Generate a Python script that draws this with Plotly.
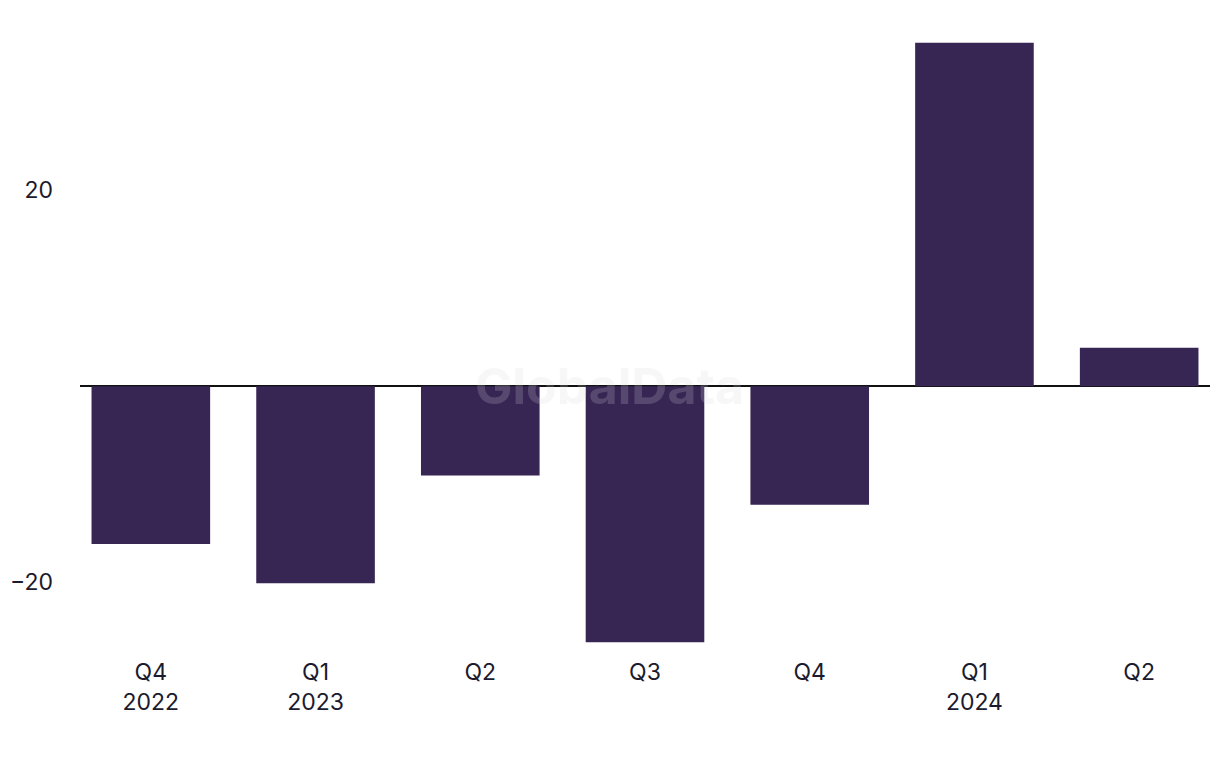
import plotly.graph_objects as go

categories = ["Q4<br>2022", "Q1<br>2023", "Q2", "Q3", "Q4", "Q1<br>2024", "Q2"]
cat_ids = ["Q4 2022", "Q1 2023", "Q2 2023", "Q3 2023", "Q4 2023", "Q1 2024", "Q2 2024"]
values = [-16.1, -20.1, -9.1, -26.1, -12.1, 35.0, 3.9]
y_ticks = [-20, 20]
y_tick_labels = ["\u221220", "20"]

BAR = "#372554"
TXT = "#1b1a2e"
FONT = "Inter, Roboto, sans-serif"

fig = go.Figure(go.Bar(x=cat_ids, y=values, marker=dict(color=BAR, line=dict(width=0)),
                       hoverinfo="skip"))

fig.update_layout(
    width=1204, height=752,
    margin=dict(l=72, r=2, t=23, b=109),
    paper_bgcolor="white", plot_bgcolor="white",
    bargap=0.28,
    showlegend=False,
    font=dict(family=FONT, size=23, color=TXT),
    xaxis=dict(
        tickmode="array", tickvals=cat_ids, ticktext=categories,
        range=[-0.43, 6.43], showgrid=False, showline=False, zeroline=False,
        ticks="", ticklabelstandoff=5,
    ),
    yaxis=dict(
        tickmode="array", tickvals=y_ticks, ticktext=y_tick_labels,
        range=[-27.0, 36.2], showgrid=False, showline=False,
        zeroline=True, zerolinecolor="#111111", zerolinewidth=2,
        ticks="", ticklabelstandoff=26,
    ),
    annotations=[dict(
        text="<b>GlobalData</b>", xref="paper", yref="y", x=0.469, y=0,
        showarrow=False, font=dict(family=FONT, size=50, color="rgba(215,215,222,0.2)"),
    )],
)

fig.write_html("out.html")
